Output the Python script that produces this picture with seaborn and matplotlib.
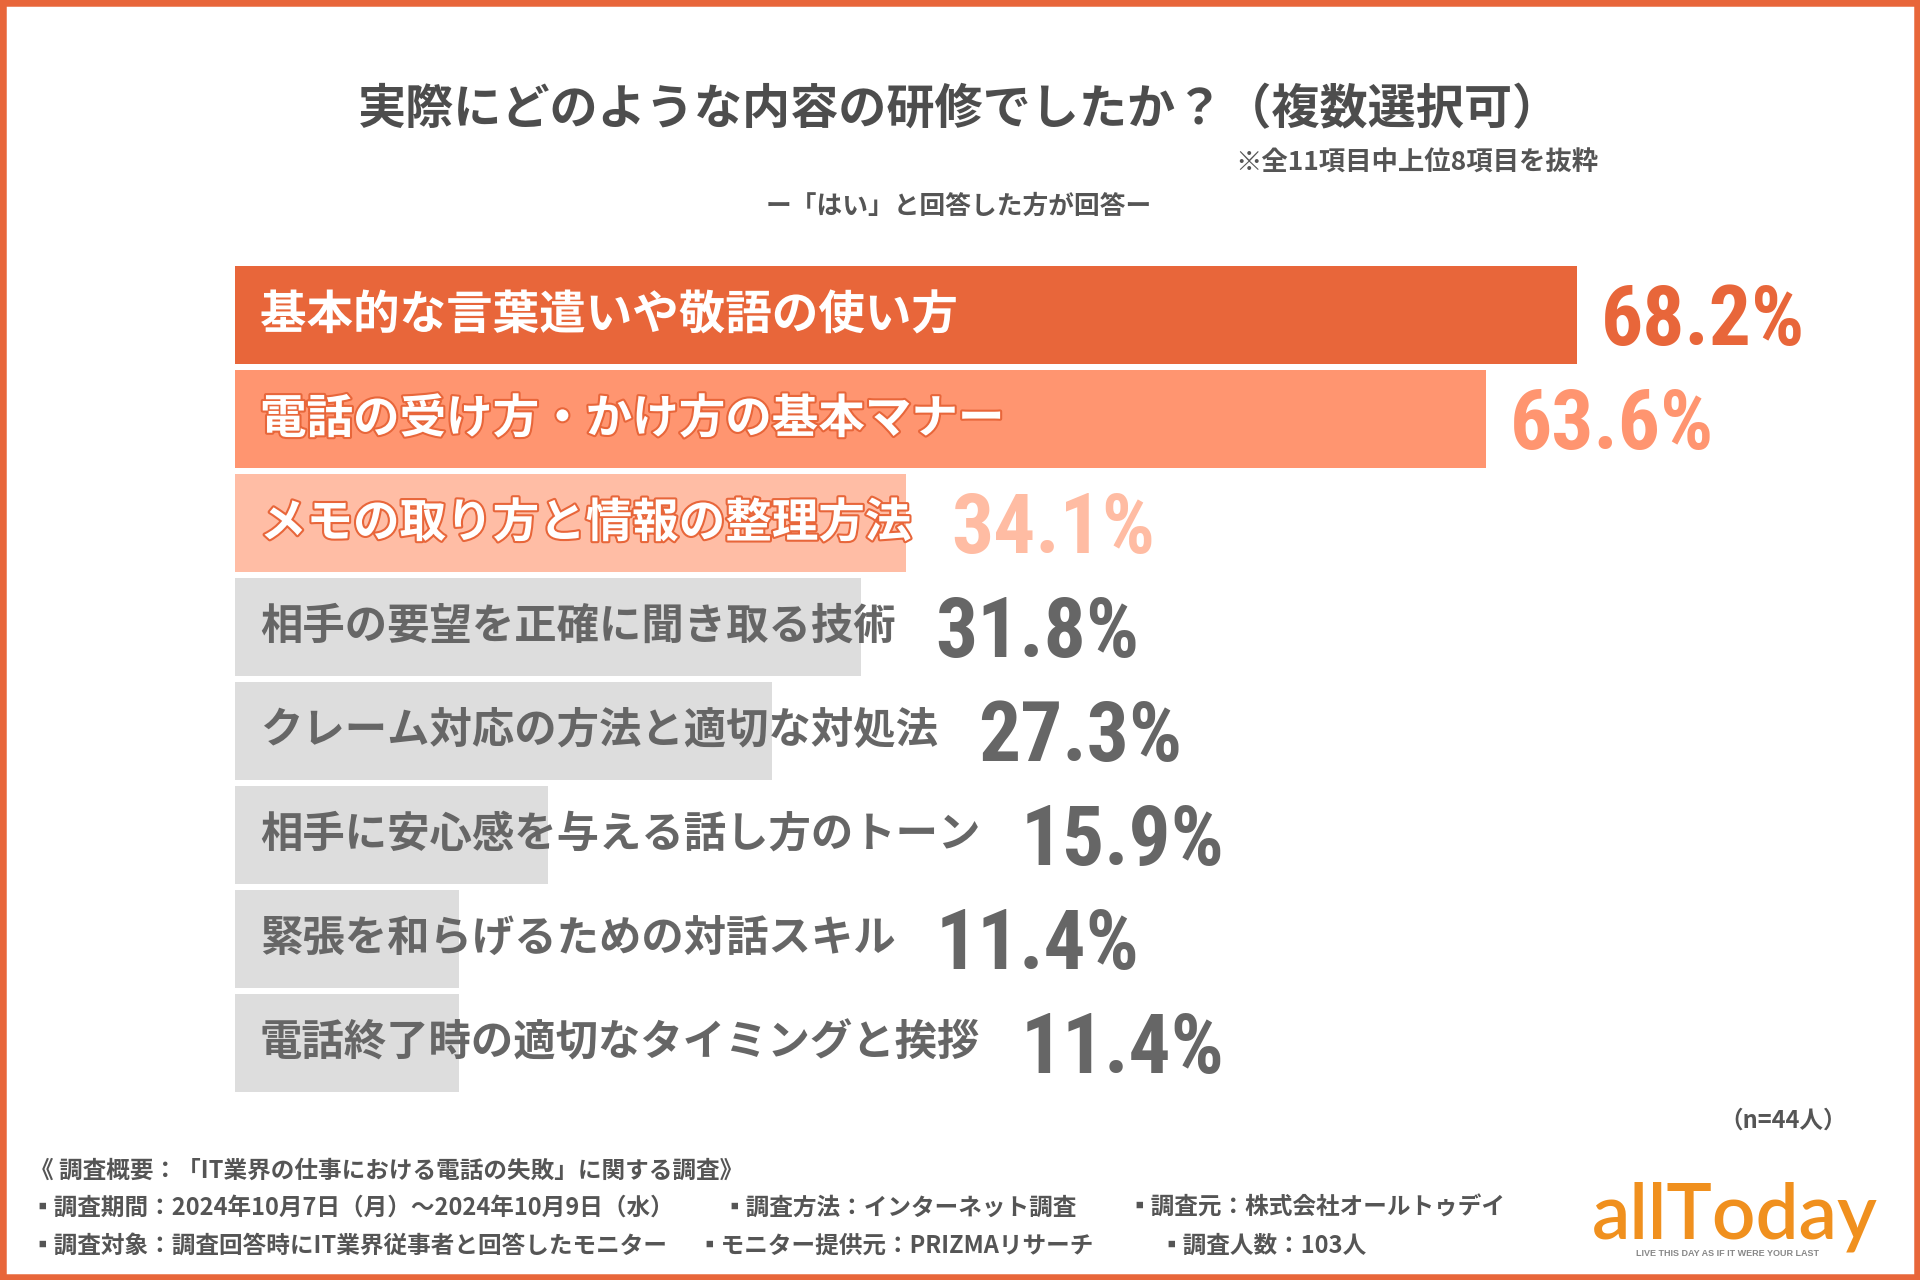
import matplotlib
matplotlib.use("Agg")
import matplotlib.pyplot as plt
import matplotlib.patheffects as pe
import matplotlib.transforms as mtransforms
from matplotlib import font_manager as fm
from matplotlib.patches import Rectangle
import seaborn as sns
import pandas as pd

# Data
categories = [
    "基本的な言葉遣いや敬語の使い方",
    "電話の受け方・かけ方の基本マナー",
    "メモの取り方と情報の整理方法",
    "相手の要望を正確に聞き取る技術",
    "クレーム対応の方法と適切な対処法",
    "相手に安心感を与える話し方のトーン",
    "緊張を和らげるための対話スキル",
    "電話終了時の適切なタイミングと挨拶",
]
values = [68.2, 63.6, 34.1, 31.8, 27.3, 15.9, 11.4, 11.4]

title = "実際にどのような内容の研修でしたか？（複数選択可）"
note = "※全11項目中上位8項目を抜粋"
subtitle = "ー「はい」と回答した方が回答ー"
n_label = "（n=44人）"
footer_head = "《 調査概要：「IT業界の仕事における電話の失敗」に関する調査》"
footer_row2 = ["▪調査期間：2024年10月7日（月）～2024年10月9日（水）",
               "▪調査方法：インターネット調査",
               "▪調査元：株式会社オールトゥデイ"]
footer_row3 = ["▪調査対象：調査回答時にIT業界従事者と回答したモニター",
               "▪モニター提供元：PRIZMAリサーチ",
               "▪調査人数：103人"]

ORANGE = "#E8663A"
bar_colors = [ORANGE, "#FF9570", "#FFBDA5"] + ["#DDDDDD"] * 5
label_colors = ["white"] * 3 + ["#666666"] * 5
value_colors = [ORANGE, "#FF9570", "#FFBCA3"] + ["#666666"] * 5

sns.set_theme(style="white")
plt.rcParams['font.family'] = ['Noto Sans CJK JP', 'DejaVu Sans']


def is_bold(w):
    try:
        return int(w) >= 600
    except (TypeError, ValueError):
        return str(w) in ("bold", "semibold", "demibold", "heavy", "black")


# look for a condensed bold face for the big percentages
def find_narrow_bold():
    names = ["Roboto Condensed", "Liberation Sans Narrow", "DejaVu Sans Condensed",
             "Noto Sans Condensed", "Open Sans Condensed"]
    for name in names:
        for f in fm.fontManager.ttflist:
            if f.name == name and is_bold(f.weight) and "Italic" not in f.fname:
                return f.fname
    for f in fm.fontManager.ttflist:
        if str(f.stretch) in ("condensed", "semi-condensed", "extra-condensed") and is_bold(f.weight):
            return f.fname
    return None


narrow = find_narrow_bold()
if narrow:
    val_font = fm.FontProperties(fname=narrow, size=60)
else:
    val_font = fm.FontProperties(family="DejaVu Sans", weight="bold", size=50)

W, H = 1920, 1280
fig = plt.figure(figsize=(W / 100, H / 100), dpi=100)
fig.patch.set_facecolor("white")


def fx(x):
    return x / W


def fy(y):
    return 1 - y / H


# Axes placed so bars line up with the reference layout
px_per = 19.675
x_max = 80
ax_left, ax_top = 235, 263
ax_w, ax_h = x_max * px_per, 8 * 104
ax = fig.add_axes([fx(ax_left), (H - ax_top - ax_h) / H, ax_w / W, ax_h / H])

df = pd.DataFrame({"item": categories, "pct": values})
sns.barplot(data=df, x="pct", y="item", hue="item", palette=bar_colors,
            legend=False, width=0.94, saturation=1, linewidth=0,
            orient="h", ax=ax)
ax.set_xlim(0, x_max)
ax.set_ylim(len(categories) - 0.5, -0.5)
ax.axis("off")

fig.canvas.draw()
renderer = fig.canvas.get_renderer()
val_trans = mtransforms.offset_copy(ax.transData, fig=fig, y=-30, units="dots")

for i, (cat, v) in enumerate(zip(categories, values)):
    # top three labels are set larger, white with an orange edge
    size = 33.5 if i < 3 else 30.5
    t = ax.text(25 / px_per, i, cat, fontsize=size, fontweight="bold",
                color=label_colors[i], va="center", ha="left")
    if i < 3:
        t.set_path_effects([pe.withStroke(linewidth=3, foreground=ORANGE)])
    bb = t.get_window_extent(renderer)
    text_end = ax.transData.inverted().transform((bb.x1, 0))[0]
    vx = max(v + 24 / px_per, text_end + 40 / px_per)
    ax.text(vx, i, f"{v}%", transform=val_trans, fontproperties=val_font,
            color=value_colors[i], va="baseline", ha="left")

# Titles
fig.text(fx(959), fy(110), title, fontsize=34.7, fontweight="bold",
         color="#4D4D4D", ha="center", va="center")
fig.text(fx(1598), fy(163), note, fontsize=19, fontweight="bold",
         color="#555555", ha="right", va="center")
fig.text(fx(959), fy(206), subtitle, fontsize=18.5, fontweight="bold",
         color="#555555", ha="center", va="center")

# Footer
fs = 17
fig.text(fx(1847), fy(1121), n_label, fontsize=fs, fontweight="bold",
         color="#555555", ha="right", va="center")
fig.text(fx(30), fy(1171), footer_head, fontsize=fs, fontweight="bold",
         color="#555555", ha="left", va="center")
for x, s in zip([30, 722, 1127], footer_row2):
    fig.text(fx(x), fy(1208), s, fontsize=fs, fontweight="bold",
             color="#555555", ha="left", va="center")
for x, s in zip([30, 697, 1159], footer_row3):
    fig.text(fx(x), fy(1246), s, fontsize=fs, fontweight="bold",
             color="#555555", ha="left", va="center")

# Logo
fig.text(fx(1735), fy(1238), "allToday", fontsize=55, family="Lato",
         fontweight="semibold", color="#F0901E", ha="center", va="baseline")
fig.text(fx(1636), fy(1253), "LIVE THIS DAY AS IF IT WERE YOUR LAST",
         fontsize=6.5, family="Liberation Sans", fontweight="bold",
         color="#888888", ha="left", va="center")

# Orange frame
fig.add_artist(Rectangle((0, 0), 1, 1, transform=fig.transFigure, fill=False,
                         edgecolor=ORANGE, linewidth=9))

plt.savefig("out.png", dpi=100, facecolor="white")
